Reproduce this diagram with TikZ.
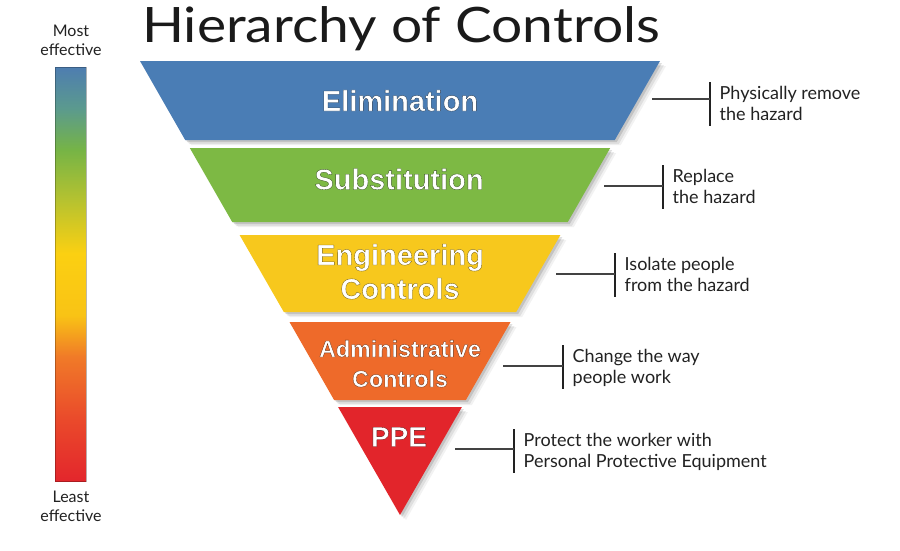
\documentclass[tikz,border=0pt]{standalone}
\usepackage{fontspec}
\setmainfont{Lato}
\newfontfamily\titlefont[FakeStretch=1.13]{Lato}
\newfontfamily\lblfont{Lato}
\newfontfamily\bandfont{Liberation Sans}
\usetikzlibrary{shadows}
\definecolor{cElim}{HTML}{4A7DB5}
\definecolor{cSubs}{HTML}{7DB944}
\definecolor{cEng}{HTML}{F7C81D}
\definecolor{cAdm}{HTML}{EE6A2A}
\definecolor{cPPE}{HTML}{E2252B}
\definecolor{lblc}{HTML}{222222}
\definecolor{titlec}{HTML}{1A1A1A}
\definecolor{gB}{HTML}{4E7DB0}
\definecolor{gT}{HTML}{5B9A8E}
\definecolor{gG}{HTML}{76B446}
\definecolor{gYG}{HTML}{B5C230}
\definecolor{gY}{HTML}{FBD012}
\definecolor{gYO}{HTML}{F9C315}
\definecolor{gO}{HTML}{F07A28}
\definecolor{gRO}{HTML}{EA4A2B}
\definecolor{gR}{HTML}{E3262C}
\pgfdeclareverticalshading{effbar}{100bp}{color(0bp)=(gR); color(25bp)=(gR); color(32.5bp)=(gRO); color(40bp)=(gO); color(45bp)=(gYO); color(52.5bp)=(gY); color(59bp)=(gYG); color(65bp)=(gG); color(70bp)=(gT); color(75bp)=(gB); color(100bp)=(gB)}
\tikzset{
  softshadow/.style={
    drop shadow={shadow xshift=2pt,shadow yshift=-2pt,opacity=0.12,fill=black},
    drop shadow={shadow xshift=4pt,shadow yshift=-4pt,opacity=0.08,fill=black},
    drop shadow={shadow xshift=6pt,shadow yshift=-5pt,opacity=0.05,fill=black}},
  bandtxt/.style={font=\bandfont\bfseries\fontsize{#1}{#1}\selectfont, inner sep=0pt, anchor=base, text=white},
  lbl/.style={font=\lblfont\fontsize{18}{21}\selectfont, text=lblc, align=left, anchor=north west, inner xsep=9.5pt, inner ysep=0pt},
  efflbl/.style={font=\lblfont\fontsize{16}{18}\selectfont, text=lblc, inner sep=0pt, anchor=base},
  vbar/.style={line width=1.8pt, draw=lblc},
  conn/.style={line width=1.2pt, draw=lblc!85}
}
% white text with a thin dark stroked rim (PDF text render mode 2)
\newcommand\strk[2]{\special{pdf:code q 2 Tr 0.35 w 1 j #1 RG}#2\special{pdf:code Q}}
\newcommand\tstr{\rule{0pt}{17pt}}
\newcommand\bstr{\rule[-5.5pt]{0pt}{5.5pt}}
\begin{document}
\begin{tikzpicture}[x=1pt,y=-1pt]
\useasboundingbox (0,0) rectangle (900,550);
\fill[white] (0,0) rectangle (900,550);
% title
\node[anchor=base west, inner sep=0pt, font=\titlefont\fontsize{48.8}{50}\selectfont, text=titlec] (title) at (142,42) {Hierarchy of Controls};
% effectiveness bar
\shade[shading=effbar] (55,67) rectangle (86,481);
\draw[black, opacity=0.25, line width=0.8pt] (55,67) rectangle (86,481);
\node[efflbl] (most1) at (71,36.5) {Most};
\node[efflbl] (most2) at (71,55) {effective};
\node[efflbl] (least1) at (71,502.5) {Least};
\node[efflbl] (least2) at (71,521.5) {effective};
% bands
\fill[cElim, softshadow] (140,61) -- (660,61) -- (614.8,140) -- (185.2,140) -- cycle;
\fill[cSubs, softshadow] (189.8,148) -- (610.2,148) -- (567.8,222) -- (232.2,222) -- cycle;
\fill[cEng, softshadow] (239.6,235) -- (560.4,235) -- (516.2,312) -- (283.8,312) -- cycle;
\fill[cAdm, softshadow] (289.5,322) -- (510.5,322) -- (465.9,400) -- (334.1,400) -- cycle;
\fill[cPPE, softshadow] (338.1,407) -- (461.9,407) -- (400,515) -- cycle;
% band texts
\node[bandtxt=29] (elim) at (400,111) {\strk{0.13 0.22 0.32}{Elimination}};
\node[bandtxt=29] (subs) at (399,189.5) {\strk{0.22 0.33 0.12}{Substitution}};
\node[bandtxt=29] (eng1) at (400,265) {\strk{0.48 0.39 0.06}{Engineering}};
\node[bandtxt=29] (eng2) at (400,299) {\strk{0.48 0.39 0.06}{Controls}};
\node[bandtxt=23.3] (adm1) at (400,357) {\strk{0.42 0.19 0.07}{Administrative}};
\node[bandtxt=23.3] (adm2) at (400,387) {\strk{0.42 0.19 0.07}{Controls}};
\node[bandtxt=28] (ppe) at (399,446.5) {\strk{0.40 0.07 0.08}{PPE}};
% right labels
\node[lbl] (t1) at (710,82) {\tstr Physically remove\\the hazard\bstr};
\node[lbl] (t2) at (663,165) {\tstr Replace\\the hazard\bstr};
\node[lbl] (t3) at (615,253) {\tstr Isolate people\\from the hazard\bstr};
\node[lbl] (t4) at (563,345) {\tstr Change the way\\people work\bstr};
\node[lbl] (t5) at (514,429) {\tstr Protect the worker with\\Personal Protective Equipment\bstr};
\coordinate (s1) at (652,99);
\coordinate (s2) at (604,186);
\coordinate (s3) at (556,274);
\coordinate (s4) at (503,366);
\coordinate (s5) at (455,449);
\foreach \i in {1,...,5}{
  \draw[vbar] (t\i.north west) -- (t\i.south west);
  \draw[conn] (s\i) -- (s\i -| t\i.west);
}
\end{tikzpicture}
\end{document}
